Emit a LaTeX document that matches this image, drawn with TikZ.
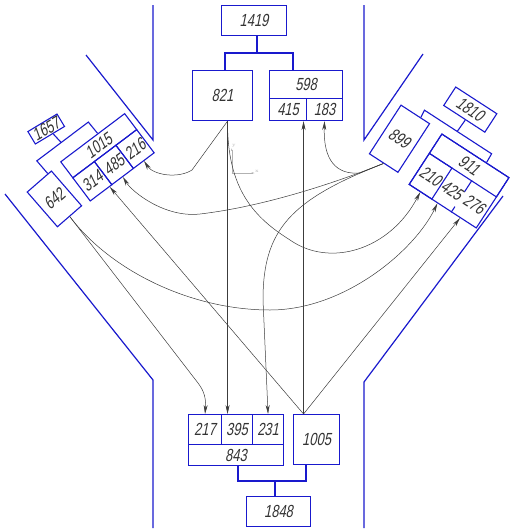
\documentclass[tikz,border=0pt]{standalone}
\usepackage{fontspec}
\usepackage{tikz}
\usetikzlibrary{arrows.meta,calc}
\newfontfamily\gostfont{Liberation Sans}[FakeStretch=0.74,FakeSlant=0.2]
\definecolor{cadblue}{RGB}{25,25,205}
\definecolor{wirecol}{RGB}{60,60,60}

\begin{document}
\begin{tikzpicture}[>={Stealth[length=9pt,width=4pt]}, x=1pt, y=-1pt,
  wall/.style={cadblue, line width=1.2pt},
  box/.style={draw=cadblue, line width=1.1pt, inner sep=0pt, anchor=north west,
    font=\gostfont\fontsize{17.5}{17.5}\selectfont, text=black!80},
  cell/.style={box, draw=none},
  sz/.style 2 args={minimum width=#1pt, minimum height=#2pt},
  tie/.style={cadblue, line width=1.1pt},
  wire/.style={wirecol, line width=0.5pt},
  arr/.style={wire, ->},
  ucs/.style={gray!60, line width=0.4pt}]
  \useasboundingbox (0,0) rectangle (516,530);

  % Walls
  \draw[wall] (86,55) -- (153,140) -- (153,5);
  \draw[wall] (5,194) -- (153,380) -- (153,528);
  \draw[wall] (364,5) -- (364,140) -- (423,54);
  \draw[wall] (503,196) -- (364,382) -- (364,528);

  % Top blocks
  \node[box,sz={65}{30}] (n1419) at (221,5) {1419};
  \node[box,sz={60}{50}] (n821) at (192,70) {821};
  \node[box,sz={73}{28}] (n598) at (269,70) {598};
  \node[box,sz={37}{22}] (c415) at (269,98) {415};
  \node[box,sz={36}{22}] (c183) at (306,98) {183};
  \coordinate (j1) at (257,53);
  \draw[tie] (j1) -- (j1 |- n1419.south);
  \draw[tie] (n821.north west) ++(33,0) |- (j1) -| ($(n598.north west)+(24,0)$);

  % Bottom blocks
  \node[box,sz={33}{30}] (c217) at (188,414) {217};
  \node[box,sz={31}{30}] (c395) at (221,414) {395};
  \node[box,sz={31}{30}] (c231) at (252,414) {231};
  \node[box,sz={95}{21}] (n843) at (188,444) {843};
  \node[box,sz={46}{50}] (n1005) at (293,414) {1005};
  \node[box,sz={64}{30}] (n1848) at (246,496) {1848};
  \coordinate (j2) at (275,481);
  \draw[tie] ($(n843.south west)+(50,0)$) |- (j2) -| ($(n1005.south west)+(13,0)$);
  \draw[tie] (j2) -- (j2 |- n1848.north);

  % Left group
  \begin{scope}[shift={(60,161.7)}, rotate=37, every node/.append style={transform shape}]
    \node[box,sz={80}{20}] (n1015) at (0,0) {1015};
    \node[box,sz={27}{29}] (c314) at (0,20) {314};
    \node[box,sz={27}{29}] (c485) at (27,20) {485};
    \node[box,sz={26}{29}] (c216) at (54,20) {216};
    \node[box,sz={32}{46},rotate=4] (n642) at (-45,4) {642};
    \node[box,sz={34}{14.5},rotate=-6] (n1657) at (-8,-44) {1657};
    \coordinate (lbarL) at (-18,-14.6);
    \coordinate (lbarR) at (46.5,-14.6);
    \coordinate (lbarM) at (12.5,-14.6);
    \draw[tie] ($(n1015.north west)!0.58!(n1015.north east)$) -- (lbarR) -- (lbarL)
      -- ($(n642.north west)!0.85!(n642.north east)$);
    \draw[tie] ($(n1657.south west)!0.6!(n1657.south east)$) -- (lbarM);
  \end{scope}

  % Right group
  \begin{scope}[shift={(441.7,133.3)}, rotate=-33, every node/.append style={transform shape}]
    \node[box,sz={80}{60}] (g911) at (0,0) {};
    \node[box,sz={80}{23}] (n911) at (0,0) {911};
    \node[box,sz={27}{37}] (c210) at (0,23) {210};
    \node[cell,sz={24}{37}] (c425) at (27,23) {425};
    \node[cell,sz={29}{37}] (c276) at (51,23) {276};
    \draw[tie] (c276.north west) -- ($(c276.north west)!0.35!(c276.south west)$);
    \draw[tie] ($(c276.north west)!0.82!(c276.south west)$) -- (c276.south west);
    \node[box,sz={34}{58}] (n899) at (-50,-2) {899};
    \node[box,sz={49}{22}] (n1810) at (-14,-47) {1810};
    \coordinate (rbarL) at (-27,-10);
    \coordinate (rbarR) at (53,-10);
    \coordinate (rbarM) at (12,-10);
    \draw[tie] ($(n899.north west)!0.68!(n899.north east)$) -- (rbarL) -- (rbarR)
      -- ($(n911.north west)!0.66!(n911.north east)$);
    \draw[tie] ($(n1810.south west)!0.53!(n1810.south east)$) -- (rbarM);
  \end{scope}

  % UCS icon
  \coordinate (ucs) at (231.7,173);
  \node[gray!60, font=\fontsize{5}{5}\selectfont, inner sep=0.5pt] (ucsy) at (234,146) {y};
  \node[gray!60, font=\fontsize{5}{5}\selectfont, inner sep=0.5pt] (ucsx) at (257,171) {x};
  \draw[ucs, -{Stealth[length=3pt,width=1.5pt]}] (ucs) -- (ucs |- ucsy.south);
  \draw[ucs, -{Stealth[length=3pt,width=1.5pt]}] (ucs) -- (ucsx.west |- ucs);

  % Links
  \coordinate (o821) at ($(n821.south)+(5,0)$);
  \coordinate (o1005) at ($(n1005.north)+(-13,0)$);
  \draw[arr] (o821) -- (o821 |- c395.north);
  \draw[arr] (o821) -- (192,170) .. controls (178,179) and (153,175) .. (c216.south);
  \draw[arr] (o821) .. controls (227,190) and (255,218) .. (290,240)
    .. controls (330,268) and (390,250) .. (c210.south);
  \draw[arr] (n899.south) -- (360,173) .. controls (336,175) and (323,160) .. (c183.south);
  \draw[arr] (n899.south) .. controls (330,185) and (260,207) .. (200,214)
    .. controls (165,218) and (132,192) .. (c485.south);
  \draw[arr] (n899.south) .. controls (290,200) and (263,230) .. (263,300) -- (c231.north);
  \draw[arr] (n642.south) -- (198,383) .. controls (205,392) and (206,400) .. (c217.north);
  \draw[arr] (n642.south) .. controls (110,270) and (190,310) .. (270,310)
    .. controls (345,310) and (415,250) .. ($(c425.south west)!0.3!(c425.south east)$);
  \draw[arr] (o1005) -- (o1005 |- c415.south);
  \draw[arr] (o1005) -- ($(c314.south)!0.75!(c314.south east)$);
  \draw[arr] (o1005) -- ($(c276.south west)!0.35!(c276.south east)$);
\end{tikzpicture}
\end{document}
